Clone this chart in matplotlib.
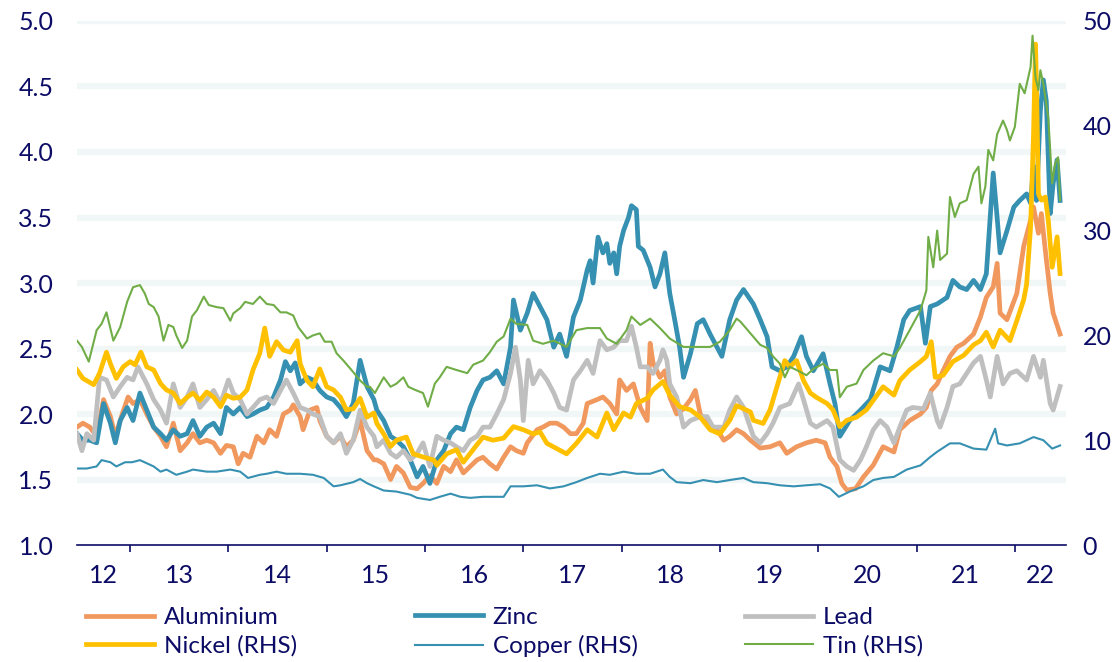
import numpy as np
import matplotlib
matplotlib.use("Agg")
import matplotlib.pyplot as plt

plt.rcParams['font.family'] = ['Lato', 'DejaVu Sans']

# === DATA (USD thousand / tonne) ===
# LHS: aluminium, zinc, lead ; RHS: nickel, copper, tin
al_t = [2012.46, 2012.52, 2012.59, 2012.66, 2012.73, 2012.80, 2012.85, 2012.92, 2012.98, 2013.03,
        2013.10, 2013.17, 2013.24, 2013.31, 2013.37, 2013.44, 2013.51, 2013.58, 2013.64, 2013.71,
        2013.78, 2013.85, 2013.92, 2013.98, 2014.05, 2014.10, 2014.15, 2014.22, 2014.29, 2014.36,
        2014.42, 2014.49, 2014.56, 2014.63, 2014.66, 2014.73, 2014.76, 2014.83, 2014.90, 2014.93,
        2015.00, 2015.07, 2015.14, 2015.20, 2015.27, 2015.34, 2015.41, 2015.48, 2015.51, 2015.58,
        2015.65, 2015.71, 2015.78, 2015.85, 2015.92, 2015.98, 2016.05, 2016.12, 2016.19, 2016.26,
        2016.32, 2016.39, 2016.46, 2016.53, 2016.59, 2016.66, 2016.73, 2016.80, 2016.87, 2016.93,
        2017.00, 2017.04, 2017.14, 2017.20, 2017.27, 2017.34, 2017.41, 2017.48, 2017.54, 2017.61,
        2017.65, 2017.75, 2017.81, 2017.88, 2017.95, 2017.98, 2018.05, 2018.12, 2018.19, 2018.26,
        2018.29, 2018.32, 2018.39, 2018.44, 2018.49, 2018.56, 2018.63, 2018.70, 2018.75, 2018.80,
        2018.87, 2018.97, 2019.04, 2019.10, 2019.17, 2019.24, 2019.31, 2019.41, 2019.51, 2019.61,
        2019.68, 2019.78, 2019.88, 2019.98, 2020.07, 2020.12, 2020.19, 2020.24, 2020.29, 2020.38,
        2020.46, 2020.56, 2020.66, 2020.77, 2020.83, 2020.93, 2021.04, 2021.10, 2021.15, 2021.21,
        2021.27, 2021.34, 2021.41, 2021.48, 2021.58, 2021.65, 2021.71, 2021.78, 2021.82, 2021.85,
        2021.92, 2022.02, 2022.09, 2022.16, 2022.19, 2022.24, 2022.27, 2022.31, 2022.36, 2022.39,
        2022.46]
al_v = [1.90, 1.93, 1.90, 1.83, 2.11, 1.98, 1.83, 2.00, 2.13, 2.08,
        2.11, 2.00, 1.90, 1.83, 1.75, 1.93, 1.72, 1.78, 1.85, 1.78,
        1.80, 1.78, 1.70, 1.76, 1.75, 1.62, 1.70, 1.67, 1.83, 1.78,
        1.88, 1.83, 2.00, 2.03, 2.07, 1.98, 1.88, 2.03, 2.05, 1.95,
        1.83, 1.78, 1.83, 1.75, 1.80, 1.95, 1.72, 1.65, 1.65, 1.62,
        1.50, 1.60, 1.55, 1.44, 1.43, 1.47, 1.53, 1.47, 1.60, 1.56,
        1.65, 1.55, 1.60, 1.65, 1.67, 1.62, 1.58, 1.67, 1.75, 1.72,
        1.70, 1.78, 1.88, 1.90, 1.93, 1.93, 1.90, 1.85, 1.85, 1.93,
        2.08, 2.11, 2.13, 2.08, 2.00, 2.26, 2.18, 2.23, 2.05, 1.95,
        2.54, 2.39, 2.28, 2.33, 2.13, 2.00, 2.04, 2.11, 2.18, 2.00,
        1.93, 1.88, 1.80, 1.83, 1.88, 1.85, 1.80, 1.74, 1.75, 1.78,
        1.70, 1.75, 1.78, 1.80, 1.78, 1.67, 1.60, 1.47, 1.42, 1.43,
        1.52, 1.61, 1.75, 1.71, 1.88, 1.95, 2.00, 2.05, 2.18, 2.23,
        2.33, 2.44, 2.51, 2.54, 2.61, 2.74, 2.89, 2.97, 3.15, 2.77,
        2.72, 2.92, 3.28, 3.48, 3.58, 3.38, 3.53, 3.25, 2.92, 2.77,
        2.61]

zn_t = [2012.46, 2012.52, 2012.59, 2012.66, 2012.73, 2012.80, 2012.85, 2012.90, 2012.97, 2013.03,
        2013.10, 2013.17, 2013.24, 2013.31, 2013.37, 2013.44, 2013.51, 2013.58, 2013.64, 2013.71,
        2013.78, 2013.85, 2013.92, 2013.98, 2014.05, 2014.12, 2014.19, 2014.25, 2014.32, 2014.39,
        2014.46, 2014.53, 2014.58, 2014.63, 2014.68, 2014.73, 2014.80, 2014.86, 2014.93, 2015.00,
        2015.07, 2015.14, 2015.20, 2015.27, 2015.34, 2015.41, 2015.48, 2015.51, 2015.58, 2015.65,
        2015.71, 2015.78, 2015.85, 2015.92, 2015.98, 2016.05, 2016.12, 2016.19, 2016.26, 2016.32,
        2016.39, 2016.46, 2016.53, 2016.59, 2016.66, 2016.73, 2016.80, 2016.87, 2016.90, 2016.97,
        2017.04, 2017.10, 2017.17, 2017.24, 2017.31, 2017.37, 2017.44, 2017.51, 2017.58, 2017.65,
        2017.68, 2017.71, 2017.76, 2017.81, 2017.85, 2017.88, 2017.92, 2017.95, 2017.98, 2018.02,
        2018.07, 2018.10, 2018.15, 2018.17, 2018.22, 2018.29, 2018.34, 2018.39, 2018.44, 2018.49,
        2018.54, 2018.59, 2018.63, 2018.70, 2018.77, 2018.83, 2018.90, 2018.97, 2019.02, 2019.10,
        2019.17, 2019.24, 2019.34, 2019.41, 2019.48, 2019.53, 2019.61, 2019.68, 2019.75, 2019.83,
        2019.88, 2019.95, 2020.05, 2020.12, 2020.17, 2020.22, 2020.32, 2020.43, 2020.53, 2020.63,
        2020.73, 2020.80, 2020.87, 2020.93, 2021.04, 2021.09, 2021.14, 2021.21, 2021.27, 2021.31,
        2021.37, 2021.44, 2021.51, 2021.58, 2021.65, 2021.71, 2021.78, 2021.82, 2021.85, 2021.92,
        2021.99, 2022.05, 2022.12, 2022.16, 2022.19, 2022.22, 2022.26, 2022.29, 2022.32, 2022.36,
        2022.39, 2022.43, 2022.46]
zn_v = [1.85, 1.80, 1.80, 1.78, 2.08, 1.93, 1.78, 1.95, 2.05, 1.95,
        2.16, 2.03, 1.90, 1.85, 1.80, 1.88, 1.83, 1.85, 1.95, 1.83,
        1.90, 1.93, 1.85, 2.05, 2.00, 2.05, 1.98, 2.00, 2.03, 2.05,
        2.13, 2.26, 2.40, 2.33, 2.39, 2.23, 2.28, 2.26, 2.18, 2.13,
        2.11, 2.05, 1.98, 2.08, 2.41, 2.21, 2.11, 2.03, 1.95, 1.83,
        1.80, 1.75, 1.65, 1.52, 1.60, 1.47, 1.65, 1.72, 1.85, 1.90,
        1.88, 2.05, 2.18, 2.26, 2.28, 2.33, 2.23, 2.51, 2.87, 2.64,
        2.77, 2.92, 2.82, 2.72, 2.51, 2.61, 2.44, 2.74, 2.87, 3.10,
        3.17, 3.00, 3.35, 3.23, 3.30, 3.15, 3.23, 3.07, 3.28, 3.40,
        3.50, 3.59, 3.56, 3.28, 3.25, 3.12, 2.97, 3.07, 3.23, 2.92,
        2.72, 2.51, 2.28, 2.46, 2.69, 2.72, 2.61, 2.51, 2.44, 2.72,
        2.87, 2.95, 2.84, 2.72, 2.59, 2.36, 2.33, 2.36, 2.44, 2.59,
        2.44, 2.33, 2.46, 2.23, 2.08, 1.83, 1.95, 2.03, 2.11, 2.36,
        2.33, 2.51, 2.72, 2.79, 2.82, 2.54, 2.82, 2.84, 2.87, 2.89,
        3.02, 2.97, 2.95, 3.02, 2.95, 3.07, 3.84, 3.50, 3.23, 3.40,
        3.58, 3.63, 3.68, 3.61, 3.89, 3.63, 4.32, 4.55, 4.39, 3.53,
        3.76, 3.94, 3.63]

pb_t = [2012.46, 2012.51, 2012.56, 2012.63, 2012.69, 2012.76, 2012.83, 2012.90, 2012.97, 2013.03,
        2013.08, 2013.17, 2013.24, 2013.31, 2013.37, 2013.44, 2013.51, 2013.58, 2013.64, 2013.71,
        2013.78, 2013.85, 2013.92, 2014.00, 2014.05, 2014.12, 2014.19, 2014.25, 2014.32, 2014.39,
        2014.46, 2014.53, 2014.59, 2014.66, 2014.73, 2014.80, 2014.86, 2014.93, 2015.00, 2015.07,
        2015.14, 2015.20, 2015.27, 2015.34, 2015.41, 2015.48, 2015.51, 2015.58, 2015.65, 2015.71,
        2015.78, 2015.85, 2015.92, 2015.98, 2016.05, 2016.12, 2016.19, 2016.26, 2016.32, 2016.39,
        2016.46, 2016.53, 2016.59, 2016.66, 2016.73, 2016.80, 2016.87, 2016.92, 2016.97, 2017.00,
        2017.05, 2017.10, 2017.17, 2017.24, 2017.31, 2017.37, 2017.44, 2017.51, 2017.58, 2017.65,
        2017.71, 2017.78, 2017.85, 2017.92, 2017.98, 2018.05, 2018.10, 2018.15, 2018.19, 2018.26,
        2018.32, 2018.39, 2018.42, 2018.46, 2018.49, 2018.56, 2018.63, 2018.70, 2018.80, 2018.87,
        2018.93, 2019.04, 2019.10, 2019.17, 2019.24, 2019.34, 2019.41, 2019.48, 2019.54, 2019.61,
        2019.71, 2019.80, 2019.85, 2019.92, 2019.98, 2020.09, 2020.15, 2020.22, 2020.29, 2020.36,
        2020.43, 2020.49, 2020.56, 2020.63, 2020.70, 2020.77, 2020.83, 2020.90, 2020.96, 2021.07,
        2021.14, 2021.21, 2021.24, 2021.31, 2021.37, 2021.44, 2021.51, 2021.58, 2021.65, 2021.71,
        2021.75, 2021.82, 2021.88, 2021.95, 2022.02, 2022.12, 2022.19, 2022.26, 2022.29, 2022.36,
        2022.39, 2022.46]
pb_v = [1.85, 1.72, 1.85, 1.80, 2.28, 2.26, 2.13, 2.21, 2.28, 2.26,
        2.36, 2.23, 2.11, 2.03, 1.93, 2.23, 2.05, 2.13, 2.23, 2.05,
        2.11, 2.18, 2.08, 2.26, 2.16, 2.11, 2.00, 2.05, 2.11, 2.13,
        2.08, 2.18, 2.26, 2.16, 2.05, 2.03, 2.00, 1.98, 1.83, 1.78,
        1.85, 1.70, 1.80, 2.03, 1.90, 1.83, 1.75, 1.80, 1.70, 1.67,
        1.72, 1.65, 1.70, 1.78, 1.60, 1.83, 1.80, 1.78, 1.75, 1.72,
        1.80, 1.83, 1.90, 1.90, 2.00, 2.11, 2.31, 2.51, 2.26, 1.95,
        2.41, 2.23, 2.33, 2.26, 2.16, 2.05, 2.03, 2.26, 2.33, 2.41,
        2.31, 2.56, 2.49, 2.51, 2.56, 2.56, 2.67, 2.51, 2.36, 2.36,
        2.31, 2.41, 2.49, 2.41, 2.23, 2.13, 1.90, 1.95, 1.98, 1.98,
        1.90, 1.90, 2.03, 2.13, 2.05, 1.83, 1.78, 1.85, 1.93, 2.05,
        2.08, 2.23, 2.11, 1.93, 1.90, 1.95, 1.90, 1.65, 1.60, 1.57,
        1.65, 1.75, 1.88, 1.95, 1.90, 1.78, 1.90, 2.03, 2.05, 2.04,
        2.16, 1.95, 1.90, 2.05, 2.21, 2.23, 2.31, 2.39, 2.44, 2.26,
        2.13, 2.44, 2.23, 2.31, 2.33, 2.26, 2.44, 2.28, 2.41, 2.08,
        2.03, 2.21]

ni_t = [2012.46, 2012.52, 2012.63, 2012.69, 2012.76, 2012.80, 2012.86, 2012.93, 2013.00, 2013.05,
        2013.11, 2013.17, 2013.24, 2013.31, 2013.37, 2013.44, 2013.51, 2013.58, 2013.64, 2013.71,
        2013.78, 2013.85, 2013.92, 2013.98, 2014.05, 2014.12, 2014.19, 2014.25, 2014.32, 2014.37,
        2014.42, 2014.49, 2014.56, 2014.63, 2014.70, 2014.73, 2014.80, 2014.86, 2014.93, 2015.00,
        2015.07, 2015.14, 2015.20, 2015.27, 2015.34, 2015.41, 2015.48, 2015.51, 2015.58, 2015.65,
        2015.71, 2015.81, 2015.88, 2015.98, 2016.09, 2016.12, 2016.22, 2016.32, 2016.39, 2016.49,
        2016.59, 2016.69, 2016.80, 2016.90, 2017.00, 2017.10, 2017.17, 2017.24, 2017.34, 2017.44,
        2017.54, 2017.65, 2017.75, 2017.85, 2017.92, 2018.02, 2018.09, 2018.15, 2018.26, 2018.32,
        2018.42, 2018.49, 2018.59, 2018.70, 2018.80, 2018.90, 2019.00, 2019.10, 2019.17, 2019.31,
        2019.34, 2019.44, 2019.51, 2019.58, 2019.66, 2019.71, 2019.78, 2019.85, 2019.92, 2019.98,
        2020.09, 2020.15, 2020.22, 2020.29, 2020.39, 2020.49, 2020.56, 2020.66, 2020.77, 2020.83,
        2020.93, 2021.04, 2021.10, 2021.15, 2021.19, 2021.27, 2021.37, 2021.48, 2021.58, 2021.65,
        2021.71, 2021.78, 2021.85, 2021.95, 2022.02, 2022.09, 2022.12, 2022.16, 2022.19, 2022.21,
        2022.22, 2022.24, 2022.27, 2022.31, 2022.34, 2022.38, 2022.43, 2022.46]
ni_v = [16.7, 15.9, 15.3, 16.4, 18.4, 17.3, 15.9, 17.0, 17.5, 17.2,
        18.4, 17.0, 16.7, 15.4, 14.8, 14.5, 13.5, 14.1, 14.5, 13.8,
        14.6, 14.1, 13.2, 14.3, 14.0, 14.1, 14.8, 16.7, 18.3, 20.7,
        18.0, 19.4, 18.6, 18.4, 19.5, 17.3, 15.7, 15.1, 16.8, 15.1,
        14.8, 14.1, 12.9, 13.0, 14.0, 12.2, 12.6, 11.6, 10.6, 9.4,
        10.0, 10.3, 8.7, 8.4, 8.1, 7.6, 8.7, 9.1, 7.9, 9.1,
        10.3, 10.0, 10.2, 11.3, 11.0, 10.6, 10.8, 9.7, 9.2, 8.7,
        9.7, 11.0, 10.3, 12.6, 11.0, 12.6, 12.2, 13.5, 14.0, 14.8,
        15.6, 14.3, 13.2, 12.9, 12.2, 11.0, 10.6, 11.9, 13.3, 12.7,
        11.9, 11.6, 12.9, 15.1, 17.6, 17.0, 17.6, 15.7, 14.5, 14.1,
        13.5, 12.9, 11.3, 11.9, 12.2, 12.9, 13.8, 15.1, 14.3, 15.7,
        16.7, 17.5, 18.0, 19.4, 16.0, 16.2, 17.5, 18.1, 19.1, 19.5,
        20.3, 18.9, 20.5, 19.5, 21.4, 23.4, 24.9, 30.3, 39.2, 47.8,
        44.0, 33.5, 32.9, 33.2, 31.0, 26.5, 29.4, 25.9]

cu_t = [2012.46, 2012.56, 2012.66, 2012.71, 2012.80, 2012.86, 2012.95, 2013.02, 2013.10, 2013.17,
        2013.24, 2013.31, 2013.37, 2013.47, 2013.58, 2013.64, 2013.78, 2013.88, 2014.02, 2014.12,
        2014.20, 2014.32, 2014.39, 2014.49, 2014.59, 2014.73, 2014.86, 2014.97, 2015.07, 2015.14,
        2015.27, 2015.34, 2015.41, 2015.48, 2015.58, 2015.71, 2015.85, 2015.92, 2016.05, 2016.15,
        2016.26, 2016.36, 2016.46, 2016.59, 2016.73, 2016.80, 2016.87, 2017.00, 2017.14, 2017.27,
        2017.41, 2017.54, 2017.65, 2017.78, 2017.88, 2018.02, 2018.15, 2018.29, 2018.42, 2018.49,
        2018.56, 2018.70, 2018.83, 2018.97, 2019.10, 2019.24, 2019.34, 2019.48, 2019.61, 2019.75,
        2019.88, 2020.02, 2020.12, 2020.21, 2020.32, 2020.46, 2020.56, 2020.66, 2020.77, 2020.90,
        2021.04, 2021.14, 2021.21, 2021.34, 2021.44, 2021.58, 2021.71, 2021.80, 2021.83, 2021.92,
        2022.05, 2022.19, 2022.29, 2022.38, 2022.46]
cu_v = [7.3, 7.3, 7.5, 8.1, 7.9, 7.5, 7.9, 7.9, 8.1, 7.8,
        7.5, 7.0, 7.2, 6.7, 7.0, 7.2, 7.0, 7.0, 7.2, 7.0,
        6.4, 6.7, 6.8, 7.0, 6.8, 6.8, 6.7, 6.4, 5.6, 5.7,
        6.0, 6.3, 5.9, 5.6, 5.2, 5.1, 4.8, 4.5, 4.3, 4.6,
        4.9, 4.6, 4.5, 4.6, 4.6, 4.6, 5.6, 5.6, 5.7, 5.4,
        5.6, 6.0, 6.4, 6.8, 6.7, 7.0, 6.8, 6.8, 7.2, 6.5,
        6.0, 5.9, 6.2, 6.0, 6.2, 6.4, 6.0, 5.9, 5.7, 5.6,
        5.7, 5.8, 5.4, 4.6, 5.1, 5.6, 6.2, 6.4, 6.5, 7.2,
        7.6, 8.4, 8.9, 9.7, 9.7, 9.2, 9.1, 11.1, 9.7, 9.5,
        9.7, 10.3, 10.0, 9.2, 9.5]

tin_t = [2012.46, 2012.51, 2012.58, 2012.66, 2012.71, 2012.76, 2012.83, 2012.90, 2012.97, 2013.03,
         2013.10, 2013.15, 2013.19, 2013.24, 2013.29, 2013.34, 2013.39, 2013.44, 2013.47, 2013.53,
         2013.58, 2013.63, 2013.68, 2013.75, 2013.80, 2013.88, 2013.95, 2014.02, 2014.05, 2014.12,
         2014.17, 2014.25, 2014.32, 2014.39, 2014.46, 2014.53, 2014.59, 2014.66, 2014.71, 2014.80,
         2014.86, 2014.93, 2014.98, 2015.05, 2015.10, 2015.17, 2015.27, 2015.34, 2015.41, 2015.44,
         2015.49, 2015.58, 2015.65, 2015.71, 2015.78, 2015.83, 2015.90, 2015.98, 2016.03, 2016.10,
         2016.15, 2016.22, 2016.32, 2016.43, 2016.49, 2016.59, 2016.66, 2016.73, 2016.80, 2016.87,
         2016.93, 2017.04, 2017.10, 2017.20, 2017.31, 2017.44, 2017.54, 2017.65, 2017.78, 2017.85,
         2017.95, 2018.05, 2018.10, 2018.19, 2018.29, 2018.39, 2018.49, 2018.63, 2018.77, 2018.90,
         2019.00, 2019.10, 2019.17, 2019.21, 2019.31, 2019.41, 2019.48, 2019.54, 2019.61, 2019.66,
         2019.71, 2019.78, 2019.88, 2019.95, 2020.05, 2020.12, 2020.19, 2020.22, 2020.29, 2020.39,
         2020.46, 2020.56, 2020.66, 2020.77, 2020.83, 2020.93, 2021.04, 2021.10, 2021.12, 2021.17,
         2021.21, 2021.24, 2021.31, 2021.34, 2021.39, 2021.44, 2021.51, 2021.58, 2021.63, 2021.66,
         2021.70, 2021.73, 2021.78, 2021.82, 2021.88, 2021.92, 2021.95, 2022.00, 2022.05, 2022.10,
         2022.16, 2022.18, 2022.21, 2022.24, 2022.26, 2022.29, 2022.34, 2022.38, 2022.41, 2022.44,
         2022.46]
tin_v = [19.5, 18.9, 17.5, 20.5, 21.1, 22.2, 19.5, 20.8, 23.2, 24.6,
         24.8, 24.0, 23.0, 22.7, 21.8, 19.5, 21.0, 20.8, 20.0, 18.8,
         19.5, 21.8, 22.4, 23.7, 22.9, 22.7, 22.6, 21.4, 22.1, 22.6,
         23.2, 23.0, 23.7, 23.0, 22.9, 22.2, 22.2, 21.9, 20.8, 19.7,
         20.0, 20.2, 19.4, 19.4, 18.3, 17.6, 16.5, 15.7, 15.1, 15.1,
         14.5, 16.0, 15.1, 15.4, 16.0, 15.1, 14.8, 14.5, 13.2, 15.4,
         16.0, 17.0, 16.7, 16.4, 17.2, 17.6, 18.4, 19.4, 19.9, 21.6,
         21.1, 21.0, 19.5, 19.2, 19.5, 18.9, 20.5, 20.7, 20.7, 19.7,
         19.2, 20.5, 21.8, 21.0, 21.6, 20.7, 19.7, 18.9, 18.9, 18.9,
         19.4, 20.5, 21.6, 21.3, 20.2, 19.1, 18.8, 18.0, 17.3, 16.0,
         17.0, 16.7, 16.2, 16.8, 17.3, 16.7, 16.7, 14.1, 15.1, 15.4,
         16.7, 17.6, 18.3, 18.0, 18.8, 20.5, 22.4, 24.3, 29.4, 26.5,
         30.0, 27.2, 27.8, 33.2, 31.3, 32.6, 32.9, 35.4, 36.1, 32.6,
         34.2, 37.7, 36.7, 39.2, 40.5, 39.6, 38.6, 39.9, 44.0, 43.1,
         45.6, 48.6, 44.6, 43.4, 45.3, 44.0, 40.8, 34.5, 36.4, 37.0,
         32.9]

years = list(range(2013, 2023))
year_labels = ["12", "13", "14", "15", "16", "17", "18", "19", "20", "21", "22"]

# === STYLE ===
navy = "#0c0c66"
c_al, c_zn, c_pb = "#f0985e", "#3690b1", "#bfbfbf"
c_ni, c_cu, c_tin = "#ffc000", "#3690b1", "#70ad47"
x0, x1 = 2012.46, 2022.52

fig = plt.figure(figsize=(11.19, 6.62), dpi=100)
ax = fig.add_axes([0.0688, 0.1767, 0.8838, 0.7916])
ax2 = ax.twinx()

# pale horizontal bands
for lvl in np.arange(1.5, 5.01, 0.5):
    ax.axhline(lvl, color="#f1f7f7", lw=4.6, zorder=0)

l_al, = ax.plot(al_t, al_v, color=c_al, lw=3.4, label="Aluminium")
l_zn, = ax.plot(zn_t, zn_v, color=c_zn, lw=3.4, label="Zinc")
l_pb, = ax.plot(pb_t, pb_v, color=c_pb, lw=3.4, label="Lead")
l_ni, = ax2.plot(ni_t, ni_v, color=c_ni, lw=3.4, label="Nickel (RHS)")
l_cu, = ax2.plot(cu_t, cu_v, color=c_cu, lw=1.5, label="Copper (RHS)")
l_tin, = ax2.plot(tin_t, tin_v, color=c_tin, lw=1.5, label="Tin (RHS)")

ax.set_xlim(x0, x1)
ax.set_ylim(1, 5)
ax2.set_ylim(0, 50)

for a in (ax, ax2):
    for s in ("top", "left", "right"):
        a.spines[s].set_visible(False)
ax2.spines["bottom"].set_visible(False)
ax.spines["bottom"].set_color(navy)
ax.spines["bottom"].set_linewidth(1.2)

ax.set_yticks(np.arange(1.0, 5.01, 0.5))
ax.set_yticklabels([f"{v:.1f}" for v in np.arange(1.0, 5.01, 0.5)])
ax.tick_params(axis="y", length=0, pad=17, labelsize=18, labelcolor=navy)
ax2.set_yticks(range(0, 51, 10))
ax2.tick_params(axis="y", length=0, pad=12, labelsize=18, labelcolor=navy)

# year boundaries as ticks, labels centred in each year
bounds = [x0] + years + [x1]
mids = [(a + b) / 2 for a, b in zip(bounds[:-1], bounds[1:])]
ax.set_xticks(years)
ax.set_xticklabels([])
ax.set_xticks(mids, minor=True)
ax.set_xticklabels(year_labels, minor=True)
ax.tick_params(axis="x", which="major", length=5, width=1.2, color=navy, direction="out")
ax.tick_params(axis="x", which="minor", length=0, pad=14, labelsize=18, labelcolor=navy)

# legend: three columns placed like the original
cols = [(l_al, l_ni), (l_zn, l_cu), (l_pb, l_tin)]
col_x = [86, 415, 745]
for (h1, h2), px in zip(cols, col_x):
    fig.legend([h1, h2], [h1.get_label(), h2.get_label()], loc="center left",
               bbox_to_anchor=(px / 1119, 1 - 632 / 662), frameon=False,
               fontsize=17.5, labelcolor=navy, handlelength=2.8, handletextpad=0.4,
               borderpad=0, borderaxespad=0, labelspacing=0.3)

fig.savefig("out.png", dpi=100)
